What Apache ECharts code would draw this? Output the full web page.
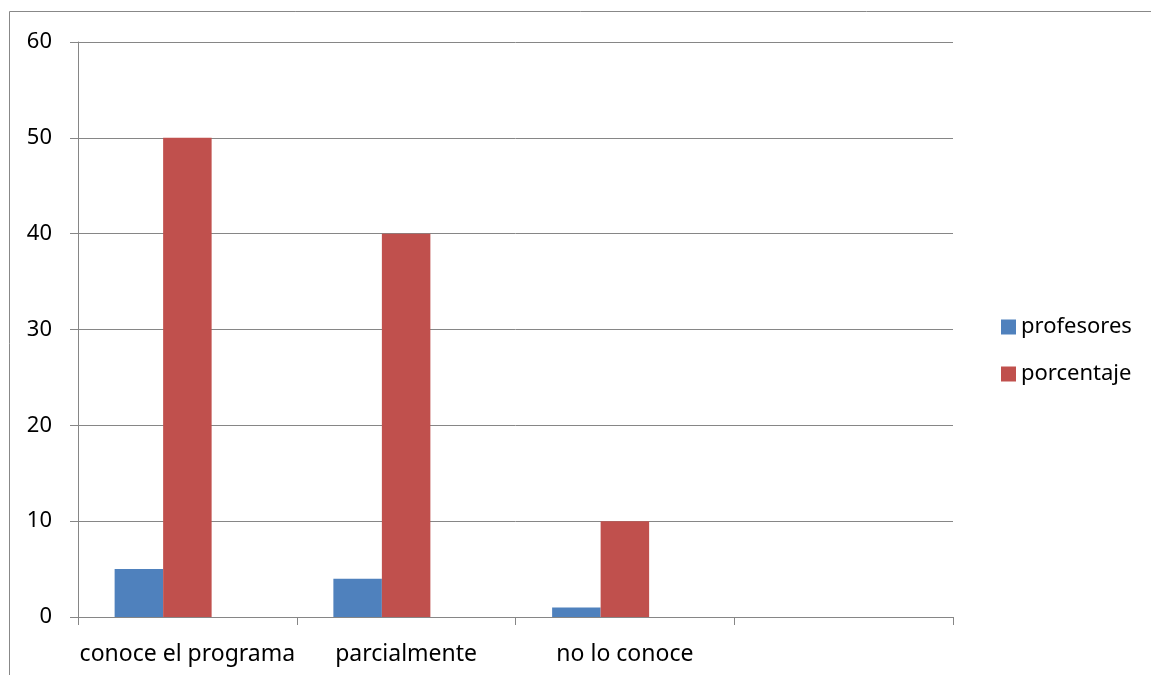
<!DOCTYPE html>
<html>
<head>
<meta charset="utf-8">
<script src="https://cdn.jsdelivr.net/npm/echarts@6/dist/echarts.min.js"></script>
<style>
  html, body { margin: 0; padding: 0; background: #fff; }
  #chart { width: 1151px; height: 675px; }
</style>
</head>
<body>
<div id="chart"></div>
<script>
let categories = ['conoce el programa', 'parcialmente', 'no lo conoce', '']
let profesores = [5, 4, 1, null]
let porcentaje = [50, 40, 10, null]
// empty third column in the original workbook, keeps the bars shifted left
let vacio = [null, null, null, null]
let yTicks = [0, 10, 20, 30, 40, 50, 60]

{
    let view = document.getElementById('chart')
    let myChart = echarts.init(view)
    let font = 'Noto Sans'
    let option = {
        animation: false,
        textStyle: { fontFamily: font },
        graphic: [{
            type: 'rect',
            shape: { x: 9.5, y: 11.5, width: 1200, height: 700 },
            style: { fill: 'none', stroke: '#888', lineWidth: 1 },
            silent: true
        }],
        legend: {
            data: ['profesores', 'porcentaje'],
            orient: 'vertical',
            left: 996,
            top: 311,
            icon: 'rect',
            itemWidth: 15,
            itemHeight: 15,
            itemGap: 25,
            textStyle: { fontSize: 22, color: '#000', fontFamily: font }
        },
        grid: { left: 78, right: 198, top: 42, bottom: 58 },
        xAxis: {
            type: 'category',
            data: categories,
            axisLine: { lineStyle: { color: '#868686' } },
            axisTick: { show: true, length: 8, lineStyle: { color: '#868686' } },
            axisLabel: { interval: 0, fontSize: 23, color: '#000', margin: 26, fontFamily: font }
        },
        yAxis: {
            type: 'value',
            min: yTicks[0],
            max: yTicks[yTicks.length - 1],
            interval: 10,
            axisLine: { show: true, lineStyle: { color: '#868686' } },
            axisTick: { show: true, length: 8, lineStyle: { color: '#868686' } },
            splitLine: { lineStyle: { color: '#868686' } },
            axisLabel: { fontSize: 22, color: '#000', margin: 26, fontFamily: font }
        },
        series: [{
            name: 'profesores',
            type: 'bar',
            data: profesores,
            barWidth: 48.5,
            barGap: '0%',
            itemStyle: { color: '#4F81BD' }
        }, {
            name: 'porcentaje',
            type: 'bar',
            data: porcentaje,
            barWidth: 48.5,
            barGap: '0%',
            itemStyle: { color: '#C0504D' }
        }, {
            name: 'vacio',
            type: 'bar',
            data: vacio,
            barWidth: 48.5,
            barGap: '0%',
            itemStyle: { color: '#9BBB59' }
        }]
    }
    myChart.setOption(option)
}
</script>
</body>
</html>
